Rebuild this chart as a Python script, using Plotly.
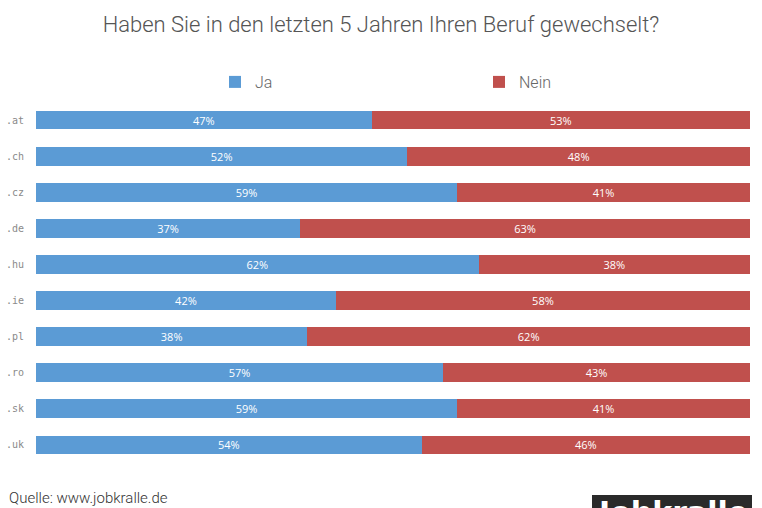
import plotly.graph_objects as go

categories = [".at", ".ch", ".cz", ".de", ".hu", ".ie", ".pl", ".ro", ".sk", ".uk"]
ja = [47, 52, 59, 37, 62, 42, 38, 57, 59, 54]
nein = [53, 48, 41, 63, 38, 58, 62, 43, 41, 46]

BLUE = "#5B9BD5"
RED = "#C0504D"
PLOT_W = 714
PLOT_H = 361

fig = go.Figure()
fig.add_trace(go.Bar(
    y=categories, x=ja, name="Ja", orientation="h", marker=dict(color=BLUE, line=dict(width=0)),
    text=[f"{v}%" for v in ja], textposition="inside", insidetextanchor="middle", constraintext="none",
    textfont=dict(color="white", size=11, family="Open Sans"),
))
fig.add_trace(go.Bar(
    y=categories, x=nein, name="Nein", orientation="h", marker=dict(color=RED, line=dict(width=0)),
    text=[f"{v}%" for v in nein], textposition="inside", insidetextanchor="middle", constraintext="none",
    textfont=dict(color="white", size=11, family="Open Sans"),
))

fig.update_layout(
    width=762, height=508,
    barmode="stack", bargap=0.48,
    paper_bgcolor="white", plot_bgcolor="white",
    margin=dict(l=36, r=12, t=102, b=45),
    title=dict(text="Haben Sie in den letzten 5 Jahren Ihren Beruf gewechselt?",
               x=0.5, xanchor="center", y=1 - 24 / 508, yanchor="middle",
               font=dict(family="Roboto Light, Roboto", size=22, color="#555555", weight=300)),
    showlegend=True,
    legend=dict(orientation="h", traceorder="normal",
                x=(215 - 36) / PLOT_W, xanchor="left", y=1 + (102 - 82) / PLOT_H, yanchor="middle",
                entrywidth=219, entrywidthmode="pixels", itemwidth=30,
                font=dict(family="Roboto Light, Roboto", size=16, color="#666666", weight=300),
                bgcolor="rgba(0,0,0,0)"),
    xaxis=dict(range=[0, 100], visible=False, fixedrange=True),
    yaxis=dict(autorange="reversed", showgrid=False, showline=False, zeroline=False,
               ticks="", ticklabelstandoff=11, automargin=False,
               tickfont=dict(family="DejaVu Sans Mono", size=10, color="#8a8a8a")),
    uniformtext=dict(minsize=8, mode="show"),
)

fig.add_annotation(text="Quelle: www.jobkralle.de", xref="paper", yref="paper",
                   x=(7 - 36) / PLOT_W, xanchor="left", y=-(498 - 463) / PLOT_H, yanchor="middle",
                   showarrow=False, font=dict(family="Roboto Light, Roboto", size=15, color="#333333", weight=300))

# logo box (partially visible at bottom edge, as in the reference)
fig.add_shape(type="rect", xref="paper", yref="paper",
              x0=(592 - 36) / PLOT_W, x1=(752 - 36) / PLOT_W, y0=-(530 - 463) / PLOT_H, y1=-(495 - 463) / PLOT_H,
              fillcolor="#2a2a2a", line=dict(width=0), layer="above")
fig.add_annotation(text="<b>Jobkralle</b>", xref="paper", yref="paper",
                   x=(672 - 36) / PLOT_W, xanchor="center", y=-(493 - 463) / PLOT_H, yanchor="top",
                   showarrow=False, font=dict(family="DejaVu Sans", size=30, color="white"))

fig.write_html("out.html")
